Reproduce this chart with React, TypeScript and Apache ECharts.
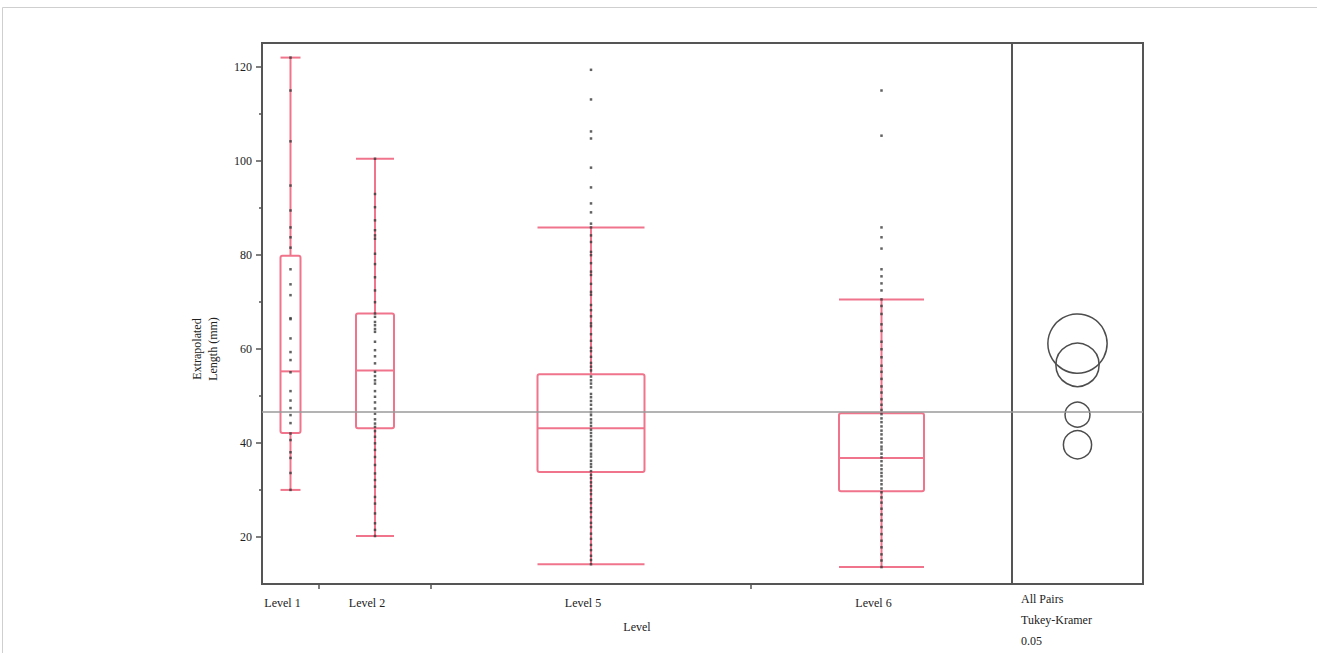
import { useEffect, useRef } from "react";
import * as echarts from "echarts";

// ---------- data ----------
const levels = ["Level 1", "Level 2", "Level 5", "Level 6"];
// horizontal share of each level (proportional to group size, JMP style)
const groupWidths = [57, 112, 320, 261];
const boxWidths = [20, 38, 107, 85];
const whiskerLow = [30.0, 20.2, 14.2, 13.6];
const q1 = [42.1, 43.1, 33.8, 29.7];
const median = [55.2, 55.4, 43.1, 36.8];
const q3 = [79.8, 67.5, 54.6, 46.3];
const whiskerHigh = [121.9, 100.4, 85.8, 70.5];

const grandMean = 46.7;
const groupMeans = [61.1, 56.6, 46.0, 39.6];
const circleRadii = [6.3, 4.6, 2.65, 3.0];

const yMajorTicks = [20, 40, 60, 80, 100, 120];
const yMinorTicks = [30, 50, 70, 90, 110];

const level1Points = [
  121.9, 114.9, 104.1, 94.7, 89.4, 85.8, 83.7, 81.5, 76.9, 73.7, 71.4, 66.5,
  66.3, 62.2, 59.3, 57.6, 55.0, 51.0, 49.0, 47.4, 45.9, 44.2, 42.0, 40.6, 38.0,
  36.8, 33.6, 30.0,
];
const level2Points = [
  100.4, 92.9, 90.1, 87.3, 85.2, 84.1, 83.4, 80.2, 78.0, 75.2, 72.4, 69.9, 67.5,
  66.8, 65.7, 65.0, 64.2, 63.6, 61.5, 59.7, 58.4, 56.9, 55.1, 54.2, 53.3, 52.6,
  51.0, 49.8, 48.6, 47.3, 46.2, 45.0, 44.1, 43.4, 42.5, 41.3, 39.9, 38.5, 37.0,
  35.3, 33.5, 32.1, 30.7, 28.5, 27.1, 25.0, 22.9, 21.5, 20.2,
];
const level5Points = [
  119.3, 113.0, 106.2, 104.7, 98.5, 94.3, 90.9, 89.0, 86.6, 85.8, 84.1, 82.7,
  80.6, 79.9, 78.2, 76.4, 75.7, 73.8, 72.1, 71.5, 69.3, 68.2, 66.9, 65.4, 64.8,
  63.1, 61.7, 60.2, 59.5, 58.3, 57.0, 56.2, 55.4, 54.1, 53.3, 52.6, 51.8, 50.4,
  49.7, 48.9, 48.1, 47.2, 46.5, 45.9, 45.0, 44.3, 43.6, 42.8, 42.1, 41.4, 40.6,
  39.8, 39.3, 38.5, 37.7, 37.1, 36.2, 35.5, 34.9, 34.0, 33.2, 32.5, 31.6, 30.8,
  29.9, 29.1, 28.0, 27.2, 26.1, 25.3, 24.2, 23.0, 22.1, 20.7, 19.6, 18.3, 17.2,
  16.0, 15.1, 14.2,
];
const level6Points = [
  114.9, 105.3, 85.8, 83.7, 81.3, 76.9, 75.4, 73.9, 72.4, 70.5, 69.1, 67.4,
  65.2, 63.8, 61.5, 59.9, 58.2, 56.4, 55.1, 53.6, 52.0, 50.7, 49.3, 48.1, 47.0,
  46.1, 45.2, 44.4, 43.5, 42.6, 41.8, 40.9, 40.1, 39.2, 38.6, 37.7, 36.9, 36.1,
  35.2, 34.4, 33.6, 32.9, 32.0, 31.2, 30.3, 29.5, 28.4, 27.3, 26.0, 24.8, 23.5,
  22.1, 20.6, 19.2, 17.8, 16.3, 15.0, 13.6,
];
const levelPoints = [level1Points, level2Points, level5Points, level6Points];

const panelLines = ["All Pairs", "Tukey-Kramer", "0.05"];

// ---------- derived positions (built from data) ----------
const totalWidth = groupWidths.reduce((a, b) => a + b, 0);
const groupStarts: number[] = [];
groupWidths.reduce((acc, w) => {
  groupStarts.push(acc);
  return acc + w;
}, 0);
const groupCenters = groupStarts.map((s, i) => s + groupWidths[i] / 2);
const groupBoundaries = groupStarts.slice(1);
const LABEL_SHIFT = 8;
const labelPositions = groupCenters.map((c) => c - LABEL_SHIFT);

const BOX_COLOR = "#f0748b";
const FRAME_COLOR = "#555555";
const FONT = "'Liberation Serif', 'Times New Roman', serif";
const TEXT_COLOR = "#222";

export default function App() {
  const ref = useRef<HTMLDivElement>(null);

  useEffect(() => {
    if (!ref.current) return;
    const chart = echarts.init(ref.current, undefined, { renderer: "svg" });

    const boxData = levels.map((_, i) => [
      groupCenters[i],
      whiskerLow[i],
      q1[i],
      median[i],
      q3[i],
      whiskerHigh[i],
      boxWidths[i],
    ]);

    const pointData: number[][] = [];
    levelPoints.forEach((pts, i) => {
      pts.forEach((v) => pointData.push([groupCenters[i], v]));
    });

    const circleData = groupMeans.map((m, i) => [0.5, m, circleRadii[i]]);

    const meanLine = {
      silent: true,
      symbol: "none",
      label: { show: false },
      lineStyle: { color: "#9a9a9a", width: 1.5, type: "solid" },
      data: [{ yAxis: grandMean }],
    };

    const option: any = {
      animation: false,
      backgroundColor: "#fff",
      textStyle: { fontFamily: FONT },
      grid: [
        {
          left: 262,
          top: 43,
          width: 750,
          height: 541,
          show: true,
          borderColor: FRAME_COLOR,
          borderWidth: 2,
          backgroundColor: "transparent",
        },
        {
          left: 1012,
          top: 43,
          width: 131,
          height: 541,
          show: true,
          borderColor: FRAME_COLOR,
          borderWidth: 2,
          backgroundColor: "transparent",
        },
      ],
      xAxis: [
        {
          type: "value",
          gridIndex: 0,
          min: 0,
          max: totalWidth,
          name: "Level",
          nameLocation: "middle",
          nameGap: 37,
          nameTextStyle: { fontFamily: FONT, fontSize: 12, color: TEXT_COLOR },
          axisLine: { show: true, lineStyle: { color: FRAME_COLOR, width: 2 } },
          axisTick: {
            show: true,
            customValues: groupBoundaries,
            length: 5,
            lineStyle: { color: FRAME_COLOR, width: 1.5 },
          },
          axisLabel: {
            show: true,
            customValues: labelPositions,
            margin: 13,
            fontFamily: FONT,
            fontSize: 12,
            color: TEXT_COLOR,
            formatter: (v: number) => {
              const idx = labelPositions.findIndex((p) => Math.abs(p - v) < 0.01);
              return idx >= 0 ? levels[idx] : "";
            },
          },
          splitLine: { show: false },
        },
        {
          type: "value",
          gridIndex: 1,
          min: 0,
          max: 1,
          show: false,
          splitLine: { show: false },
        },
      ],
      yAxis: [
        {
          type: "value",
          gridIndex: 0,
          position: "left",
          min: 10,
          max: 125,
          axisLine: { show: true, lineStyle: { color: FRAME_COLOR, width: 2 } },
          axisTick: {
            show: true,
            customValues: yMajorTicks,
            length: 6,
            lineStyle: { color: FRAME_COLOR, width: 1.5 },
          },
          axisLabel: {
            show: true,
            customValues: yMajorTicks,
            margin: 10,
            fontFamily: FONT,
            fontSize: 12,
            color: TEXT_COLOR,
          },
          splitLine: { show: false },
        },
        {
          type: "value",
          gridIndex: 0,
          position: "left",
          min: 10,
          max: 125,
          axisLine: { show: false },
          axisTick: {
            show: true,
            customValues: yMinorTicks,
            length: 3,
            lineStyle: { color: FRAME_COLOR, width: 1.5 },
          },
          axisLabel: { show: false },
          splitLine: { show: false },
        },
        {
          type: "value",
          gridIndex: 1,
          min: 10,
          max: 125,
          show: false,
          splitLine: { show: false },
        },
      ],
      series: [
        {
          type: "custom",
          name: "box",
          xAxisIndex: 0,
          yAxisIndex: 0,
          z: 2,
          encode: { x: 0, y: [1, 2, 3, 4, 5] },
          data: boxData,
          renderItem: (_params: any, api: any) => {
            const x = api.value(0);
            const w = api.size([api.value(6), 0])[0];
            const pLow = api.coord([x, api.value(1)]);
            const pQ1 = api.coord([x, api.value(2)]);
            const pMed = api.coord([x, api.value(3)]);
            const pQ3 = api.coord([x, api.value(4)]);
            const pHigh = api.coord([x, api.value(5)]);
            const cx = pLow[0];
            const style = { stroke: BOX_COLOR, lineWidth: 2, fill: "none" };
            return {
              type: "group",
              children: [
                { type: "line", shape: { x1: cx, y1: pLow[1], x2: cx, y2: pQ1[1] }, style },
                { type: "line", shape: { x1: cx, y1: pQ3[1], x2: cx, y2: pHigh[1] }, style },
                { type: "line", shape: { x1: cx - w / 2, y1: pLow[1], x2: cx + w / 2, y2: pLow[1] }, style },
                { type: "line", shape: { x1: cx - w / 2, y1: pHigh[1], x2: cx + w / 2, y2: pHigh[1] }, style },
                {
                  type: "rect",
                  shape: { x: cx - w / 2, y: pQ3[1], width: w, height: pQ1[1] - pQ3[1], r: 2 },
                  style,
                },
                { type: "line", shape: { x1: cx - w / 2, y1: pMed[1], x2: cx + w / 2, y2: pMed[1] }, style },
              ],
            };
          },
          markLine: meanLine,
        },
        {
          type: "scatter",
          name: "points",
          xAxisIndex: 0,
          yAxisIndex: 0,
          z: 3,
          symbol: "rect",
          symbolSize: 2.5,
          itemStyle: { color: "#3a3a3a", opacity: 0.8 },
          data: pointData,
        },
        {
          type: "custom",
          name: "circles",
          xAxisIndex: 1,
          yAxisIndex: 2,
          z: 2,
          encode: { x: 0, y: 1 },
          data: circleData,
          renderItem: (_params: any, api: any) => {
            const c = api.coord([api.value(0), api.value(1)]);
            const r = api.size([0, api.value(2)])[1];
            return {
              type: "circle",
              shape: { cx: c[0], cy: c[1], r },
              style: { stroke: "#4d4d4d", lineWidth: 1.5, fill: "none" },
            };
          },
          markLine: meanLine,
        },
      ],
      graphic: [
        {
          type: "rect",
          silent: true,
          shape: { x: 2.5, y: 7.5, width: 1400, height: 700 },
          style: { fill: "none", stroke: "#cfcfcf", lineWidth: 1 },
        },
        {
          type: "text",
          x: 205,
          y: 349,
          rotation: Math.PI / 2,
          style: {
            text: "Extrapolated\nLength (mm)",
            align: "center",
            verticalAlign: "middle",
            lineHeight: 16,
            fontFamily: FONT,
            fontSize: 12,
            fill: TEXT_COLOR,
          },
        },
        ...panelLines.map((t, i) => ({
          type: "text",
          x: 1021,
          y: 599 + i * 21,
          style: {
            text: t,
            align: "left",
            verticalAlign: "middle",
            fontFamily: FONT,
            fontSize: 12,
            fill: TEXT_COLOR,
          },
        })),
      ],
    };

    chart.setOption(option);
    return () => chart.dispose();
  }, []);

  return (
    <div
      ref={ref}
      style={{ position: "absolute", left: 0, top: 0, width: 1317, height: 653 }}
    />
  );
}
